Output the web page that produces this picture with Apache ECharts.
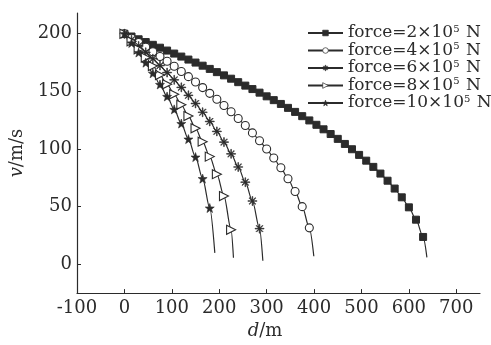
<!DOCTYPE html>
<html>
<head>
<meta charset="utf-8">
<script src="https://cdn.jsdelivr.net/npm/echarts@6/dist/echarts.min.js"></script>
<style>
  html, body { margin: 0; padding: 0; background: #fff; }
  #chart { width: 491px; height: 345px; }
</style>
</head>
<body>
<div id="chart"></div>
<script>
// series names
const names = ['force=2×10^5 N', 'force=4×10^5 N', 'force=6×10^5 N', 'force=8×10^5 N', 'force=10×10^5 N'];

// [d, v], markers every ~15 m, last point is curve end
const f2 = [[0,200],[15,197.6],[30,195.2],[45,192.8],[60,190.4],[75,187.9],[90,185.4],[105,182.8],[120,180.2],[135,177.6],[150,175.0],[165,172.3],[180,169.5],[195,166.7],[210,163.9],[225,161.0],[240,158.0],[255,155.0],[270,152.0],[285,148.9],[300,145.7],[315,142.4],[330,139.1],[345,135.7],[360,132.2],[375,128.5],[390,124.8],[405,121.0],[420,117.1],[435,113.0],[450,108.8],[465,104.4],[480,99.8],[495,94.9],[510,89.9],[525,84.5],[540,78.7],[555,72.5],[570,65.7],[585,58.1],[600,49.4],[615,38.7],[630,23.7],[638,6]];
const f4 = [[0,200],[15,196.2],[30,192.4],[45,188.4],[60,184.4],[75,180.3],[90,176.1],[105,171.8],[120,167.3],[135,162.8],[150,158.1],[165,153.3],[180,148.3],[195,143.2],[210,137.8],[225,132.3],[240,126.5],[255,120.4],[270,114.0],[285,107.2],[300,100.0],[315,92.2],[330,83.7],[345,74.2],[360,63.2],[375,50.0],[390,31.6],[399.5,7]];
const f6 = [[0,200],[15,194.8],[30,189.4],[45,183.9],[60,178.3],[75,172.4],[90,166.3],[105,160.0],[120,153.5],[135,146.6],[150,139.5],[165,131.9],[180,123.9],[195,115.3],[210,106.0],[225,95.8],[240,84.4],[255,71.2],[270,54.9],[285,30.9],[292,3]];
const f8 = [[0,200],[15,193.4],[30,186.5],[45,179.4],[60,172.0],[75,164.2],[90,156.1],[105,147.5],[120,138.4],[135,128.6],[150,118.0],[165,106.4],[180,93.4],[195,78.2],[210,59.2],[225,29.9],[230,5.7]];
const f10 = [[0,200],[15,192.0],[30,183.7],[45,174.9],[60,165.7],[75,156.0],[90,145.6],[105,134.4],[120,122.1],[135,108.6],[150,93.0],[165,74.3],[180,48.8],[190.7,9.9]];

const xTicks = [-100, 0, 100, 200, 300, 400, 500, 600, 700];
const yTicks = [0, 50, 100, 150, 200];

const ink = '#2b2b2b';
const font = 'DejaVu Serif';

const star = 'path://M5,0 L6.2,3.6 L10,3.7 L7,6 L8.1,9.6 L5,7.5 L1.9,9.6 L3,6 L0,3.7 L3.8,3.6 Z';
// eight-ray asterisk built from four thin filled bars
const asterisk = 'path://M0,4.6 L10,4.6 L10,5.4 L0,5.4 Z M4.6,0 L5.4,0 L5.4,10 L4.6,10 Z ' +
    'M1.78,1.22 L8.78,8.22 L8.22,8.78 L1.22,1.78 Z M8.78,1.78 L1.78,8.78 L1.22,8.22 L8.22,1.22 Z';
const triRight = 'path://M0,0 L10,5 L0,10 Z';

function curve(name, data, symbol, size, fill, bw) {
    // last point is only the end of the line, no marker
    const pts = data.map((p, i) => i === data.length - 1 ? { value: p, symbol: 'none' } : p);
    return {
        name: name,
        type: 'line',
        data: pts,
        smooth: 0.3,
        smoothMonotone: 'x',
        symbol: symbol,
        symbolSize: size,
        showAllSymbol: true,
        lineStyle: { color: ink, width: 1.2 },
        itemStyle: { color: fill, borderColor: ink, borderWidth: bw },
        emphasis: { disabled: true }
    };
}

const chart = echarts.init(document.getElementById('chart'));

chart.setOption({
    animation: false,
    backgroundColor: '#fff',
    grid: { left: 77, right: 11, top: 13, bottom: 45 },
    legend: {
        orient: 'vertical',
        left: 302,
        top: 19,
        itemWidth: 35,
        itemHeight: 7,
        itemGap: 0,
        data: names,
        itemStyle: { borderWidth: 0.7 },
        formatter: n => n.replace('^5', '{s|5}'),
        textStyle: {
            fontFamily: font, fontSize: 17, color: ink,
            rich: { s: { fontFamily: font, fontSize: 10, color: ink, padding: [0, 1, 8, 0] } }
        }
    },
    xAxis: {
        type: 'value',
        min: -100,
        max: 750,
        name: '{i|d}/m',
        nameLocation: 'middle',
        nameGap: 25,
        nameTextStyle: {
            fontFamily: font, fontSize: 18, color: ink, padding: [0, 27, 0, 0],
            rich: { i: { fontFamily: font, fontSize: 18, fontStyle: 'italic', color: ink } }
        },
        axisLine: { onZero: false, lineStyle: { color: ink, width: 1.2 } },
        axisTick: { inside: true, length: 4, customValues: xTicks, lineStyle: { color: ink } },
        axisLabel: { customValues: xTicks, margin: 6, fontFamily: font, fontSize: 18, color: ink },
        splitLine: { show: false }
    },
    yAxis: {
        type: 'value',
        min: -25,
        max: 218,
        name: '{i|v}/m/s',
        nameLocation: 'middle',
        nameGap: 44,
        nameTextStyle: {
            fontFamily: font, fontSize: 18, color: ink,
            rich: { i: { fontFamily: font, fontSize: 18, fontStyle: 'italic', color: ink } }
        },
        axisLine: { onZero: false, lineStyle: { color: ink, width: 1.2 } },
        axisTick: { inside: true, length: 4, customValues: yTicks, lineStyle: { color: ink } },
        axisLabel: { customValues: yTicks, margin: 5, fontFamily: font, fontSize: 18, color: ink },
        splitLine: { show: false }
    },
    series: [
        curve(names[0], f2, 'rect', 7, ink, 1),
        curve(names[1], f4, 'circle', 8, '#fff', 1.1),
        curve(names[2], f6, asterisk, 9, ink, 0.6),
        curve(names[3], f8, triRight, 9, '#fff', 1.1),
        curve(names[4], f10, star, 9, ink, 0.6)
    ]
});
</script>
</body>
</html>
